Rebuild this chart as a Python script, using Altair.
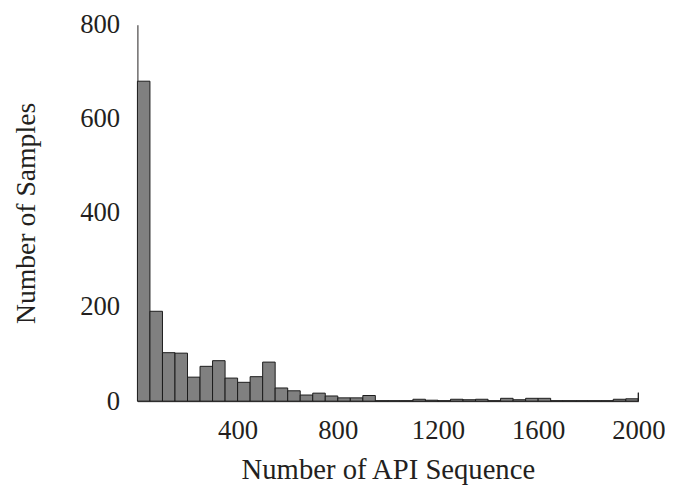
import altair as alt
import pandas as pd

bin_start = [0, 50, 100, 150, 200, 250, 300, 350, 400, 450,
             500, 550, 600, 650, 700, 750, 800, 850, 900, 950,
             1000, 1050, 1100, 1150, 1200, 1250, 1300, 1350, 1400, 1450,
             1500, 1550, 1600, 1650, 1700, 1750, 1800, 1850, 1900, 1950, 2000]
bin_end = [s + 50 for s in bin_start[:-1]] + [2000]
counts = [680, 191, 103, 102, 51, 74, 86, 49, 40, 52,
          83, 28, 22, 13, 17, 11, 7, 7, 12, 1,
          1, 1, 4, 2, 1, 4, 3, 4, 1, 6,
          3, 6, 6, 1, 1, 1, 1, 1, 4, 5, 18]

x_ticks = [400, 800, 1200, 1600, 2000]
y_ticks = [0, 200, 400, 600, 800]

df = pd.DataFrame({"start": bin_start, "end": bin_end, "count": counts})

FONT = "Liberation Serif"

chart = alt.Chart(df).mark_bar(
    fill="#808080", stroke="#1a1a1a", strokeWidth=1
).encode(
    x=alt.X("start:Q", scale=alt.Scale(domain=[0, 2000], nice=False, zero=False),
            axis=alt.Axis(values=x_ticks, format="d", title="Number of API Sequence",
                          grid=False, ticks=False, labelPadding=17, titlePadding=12,
                          titleFontSize=29,
                          domainColor="#231f20", labelFlush=False)),
    x2="end:Q",
    y=alt.Y("count:Q", scale=alt.Scale(domain=[0, 800], nice=False),
            axis=alt.Axis(values=y_ticks, format="d", title="Number of Samples",
                          grid=False, ticks=False, labelPadding=18, titlePadding=40,
                          titleFontSize=28,
                          domainColor="#231f20")),
    y2=alt.datum(0),
).properties(
    width=507, height=381,
    padding={"left": 131, "top": 14, "right": 27, "bottom": 87},
    autosize=alt.AutoSizeParams(type="none"),
).configure_axis(
    labelFont=FONT, titleFont=FONT, labelFontSize=27,
    labelColor="#231f20", titleColor="#231f20", titleFontWeight="normal",
    domainWidth=1,
).configure_view(stroke=None)

chart.save("out.html", embed_options={"renderer": "svg", "actions": False})
